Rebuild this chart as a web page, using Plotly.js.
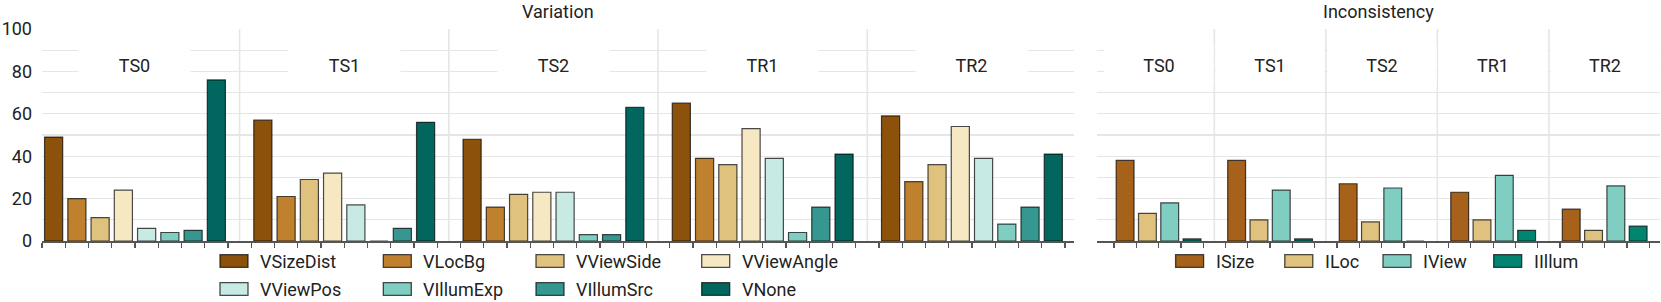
<!DOCTYPE html>
<html>
<head>
<meta charset="utf-8">
<script src="https://cdn.plot.ly/plotly-3.0.1.min.js"></script>
<style>html,body{margin:0;padding:0;background:#fff;}#chart{width:1661px;height:302px;}</style>
</head>
<body>
<div id="chart"></div>
<script>
// ---------- DATA ----------
const groups = ['TS0', 'TS1', 'TS2', 'TR1', 'TR2'];

// Variation panel
const variationSeries = ['VSizeDist', 'VLocBg', 'VViewSide', 'VViewAngle', 'VViewPos', 'VIllumExp', 'VIllumSrc', 'VNone'];
const vSizeDist  = [49, 57, 48, 65, 59];
const vLocBg     = [20, 21, 16, 39, 28];
const vViewSide  = [11, 29, 22, 36, 36];
const vViewAngle = [24, 32, 23, 53, 54];
const vViewPos   = [6, 17, 23, 39, 39];
const vIllumExp  = [4, 0, 3, 4, 8];
const vIllumSrc  = [5, 6, 3, 16, 16];
const vNone      = [76, 56, 63, 41, 41];
const variationColors = ['#8c510a', '#bf812d', '#dfc27d', '#f6e8c3', '#c7eae5', '#80cdc1', '#35978f', '#01665e'];

// Inconsistency panel
const inconsistencySeries = ['ISize', 'ILoc', 'IView', 'IIllum'];
const iSize  = [38, 38, 27, 23, 15];
const iLoc   = [13, 10, 9, 10, 5];
const iView  = [18, 24, 25, 31, 26];
const iIllum = [1, 1, 0, 5, 7];
const inconsistencyColors = ['#a6611a', '#dfc27d', '#80cdc1', '#018571'];

const yTickVals = [0, 20, 40, 60, 80, 100];

// ---------- BUILD ----------
const W = 1661, H = 302;
const px = v => v / W;
const py = v => 1 - v / H;

const vData = [vSizeDist, vLocBg, vViewSide, vViewAngle, vViewPos, vIllumExp, vIllumSrc, vNone];
const iData = [iSize, iLoc, iView, iIllum];

const vStride = variationSeries.length + 1;      // 8 bars + blank slot
const iStride = inconsistencySeries.length + 1;  // 4 bars + blank slot
const edge = 'rgba(0,0,0,0.7)';

const traces = [];
vData.forEach((vals, s) => {
  traces.push({
    type: 'bar', name: variationSeries[s],
    x: groups.map((g, gi) => gi * vStride + s), y: vals,
    width: 0.78, xaxis: 'x', yaxis: 'y',
    marker: {color: variationColors[s], line: {color: edge, width: 1.2}},
    showlegend: false, hoverinfo: 'skip'
  });
});
iData.forEach((vals, s) => {
  traces.push({
    type: 'bar', name: inconsistencySeries[s],
    x: groups.map((g, gi) => gi * iStride + s), y: vals,
    width: 0.8, xaxis: 'x2', yaxis: 'y2',
    marker: {color: inconsistencyColors[s], line: {color: edge, width: 1.2}},
    showlegend: false, hoverinfo: 'skip'
  });
});

const vTicks = [];
for (let k = 0; k <= groups.length * vStride - 1; k++) vTicks.push(k - 0.5);
const iTicks = [];
for (let k = 0; k <= groups.length * iStride - 1; k++) iTicks.push(k - 0.5);

const font = {family: 'Roboto, "Open Sans", sans-serif', size: 18, color: '#222'};
const gridColor = '#e6e6e6';

const xCommon = {
  type: 'linear', showgrid: false, zeroline: false, showticklabels: false,
  showline: true, linecolor: '#555', linewidth: 1.5,
  ticks: 'outside', ticklen: 5, tickwidth: 1.3, tickcolor: '#555',
  tickmode: 'array', fixedrange: true
};
const yCommon = {
  range: [0, 100], showgrid: true, gridcolor: gridColor, gridwidth: 1.3,
  zeroline: false, showline: false, ticks: '',
  tickmode: 'array', tickvals: yTickVals,
  minor: {dtick: 10, showgrid: true, gridcolor: gridColor, gridwidth: 1.3},
  fixedrange: true
};

const layout = {
  width: W, height: H,
  margin: {l: 0, r: 0, t: 0, b: 0},
  paper_bgcolor: '#fff', plot_bgcolor: '#fff',
  font: font, showlegend: false, hovermode: false, bargap: 0,
  xaxis: Object.assign({}, xCommon, {domain: [px(42), px(1074)], range: [-0.5, 43.89], tickvals: vTicks, anchor: 'y'}),
  yaxis: Object.assign({}, yCommon, {domain: [py(241), py(29)], anchor: 'x', showticklabels: true,
    tickfont: {family: font.family, size: 18, color: '#222'}, ticklabelstandoff: 9}),
  xaxis2: Object.assign({}, xCommon, {domain: [px(1097), px(1660)], range: [-1.26, 23.98], tickvals: iTicks, anchor: 'y2'}),
  yaxis2: Object.assign({}, yCommon, {domain: [py(241), py(29)], anchor: 'x2', showticklabels: false}),
  shapes: [], annotations: []
};

// group dividers
for (let g = 1; g < groups.length; g++) {
  layout.shapes.push({type: 'line', xref: 'x', yref: 'y', x0: g * vStride - 1, x1: g * vStride - 1, y0: 0, y1: 100,
    layer: 'below', line: {color: gridColor, width: 1.6}});
  layout.shapes.push({type: 'line', xref: 'x2', yref: 'y2', x0: g * iStride - 1, x1: g * iStride - 1, y0: 0, y1: 100,
    layer: 'below', line: {color: gridColor, width: 1.6}});
}

// group labels
groups.forEach((g, gi) => {
  layout.annotations.push({xref: 'x', yref: 'paper', x: gi * vStride + (variationSeries.length - 1) / 2, y: py(65),
    text: g, showarrow: false, bgcolor: '#fff', width: 111, height: 40, borderpad: 0,
    xanchor: 'center', yanchor: 'middle', font: font});
  layout.annotations.push({xref: 'x2', yref: 'paper', x: gi * iStride + (inconsistencySeries.length - 1) / 2, y: py(65),
    text: g, showarrow: false, bgcolor: '#fff', width: 108, height: 40, borderpad: 0,
    xanchor: 'center', yanchor: 'middle', font: font});
});

// panel titles
layout.annotations.push({xref: 'x domain', yref: 'paper', x: 0.5, y: py(12), text: 'Variation', showarrow: false,
  xanchor: 'center', yanchor: 'middle', font: font});
layout.annotations.push({xref: 'x2 domain', yref: 'paper', x: 0.5, y: py(12), text: 'Inconsistency', showarrow: false,
  xanchor: 'center', yanchor: 'middle', font: font});

// legends (matplotlib-like, 4 columns)
function legendItem(name, color, sx, cy) {
  layout.shapes.push({type: 'rect', xref: 'paper', yref: 'paper', x0: px(sx), x1: px(sx + 28),
    y0: py(cy + 6.3), y1: py(cy - 6.3), fillcolor: color, line: {color: edge, width: 1.3}});
  layout.annotations.push({xref: 'paper', yref: 'paper', x: px(sx + 38), y: py(cy), text: name, showarrow: false,
    xanchor: 'left', yanchor: 'middle', font: font});
}
const vColX = [220, 383.3, 536, 701.7];
const vRowY = [261, 289];
variationSeries.forEach((n, i) => legendItem(n, variationColors[i], vColX[i % 4], vRowY[Math.floor(i / 4)]));
const iColX = [1175.6, 1284.8, 1383, 1493.7];
inconsistencySeries.forEach((n, i) => legendItem(n, inconsistencyColors[i], iColX[i], 261));

Plotly.newPlot('chart', traces, layout, {staticPlot: true, displayModeBar: false});
</script>
</body>
</html>
